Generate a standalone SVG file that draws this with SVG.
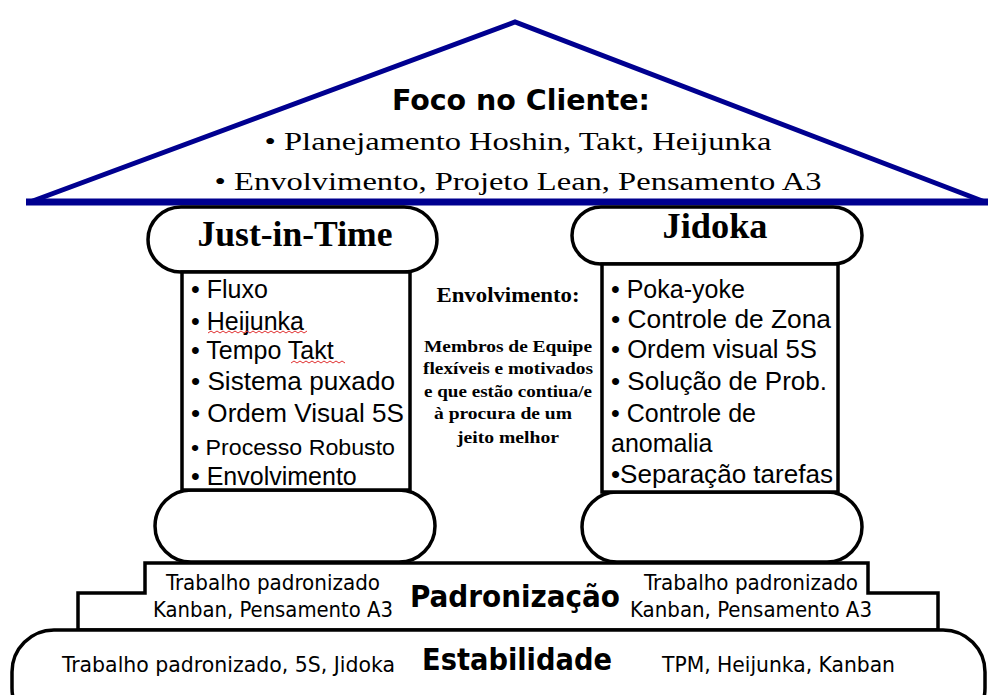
<svg xmlns="http://www.w3.org/2000/svg" width="990" height="695" viewBox="0 0 990 695">
<style>
.o{fill:#fff;stroke:#000;stroke-width:3.5}
.t{font-family:"Liberation Serif","Times New Roman",serif;fill:#000}
.s{font-family:"Liberation Sans",Arial,sans-serif;fill:#000}
.n{font-family:"Liberation Sans Narrow","DejaVu Sans Condensed","Liberation Sans",sans-serif;fill:#000}
.li{font-size:25px}
.sq{fill:none;stroke:#e03030;stroke-width:1}
</style>
<rect width="990" height="695" fill="#fff"/>
<g id="roof">
<polygon points="30,202 515,22 985,202" fill="#fff" stroke="#000090" stroke-width="5" stroke-linejoin="miter"/>
<line x1="26" y1="202" x2="988" y2="202" stroke="#000090" stroke-width="7"/>
<text class="n" x="521" y="110" font-size="28" font-weight="bold" text-anchor="middle" textLength="258" lengthAdjust="spacingAndGlyphs">Foco no Cliente:</text>
<text class="t" x="518" y="150" font-size="26" text-anchor="middle" textLength="507" lengthAdjust="spacingAndGlyphs">• Planejamento Hoshin, Takt, Heijunka</text>
<text class="t" x="518" y="190" font-size="26" text-anchor="middle" textLength="607" lengthAdjust="spacingAndGlyphs">• Envolvimento, Projeto Lean, Pensamento A3</text>
</g>
<g id="jit">
<rect class="o" x="148" y="207" width="289" height="65" rx="33"/>
<rect class="o" x="155" y="490" width="280" height="72" rx="36"/>
<rect class="o" x="182" y="272" width="228" height="218"/>
<text class="t" x="295" y="246" font-size="35" font-weight="bold" text-anchor="middle" textLength="195" lengthAdjust="spacingAndGlyphs">Just-in-Time</text>
<g class="s li">
<text x="191" y="298">• Fluxo</text>
<text x="191" y="330">• Heijunka</text>
<text x="191" y="359">• Tempo Takt</text>
<text x="191" y="390" textLength="204" lengthAdjust="spacingAndGlyphs">• Sistema puxado</text>
<text x="191" y="422" textLength="213" lengthAdjust="spacingAndGlyphs">• Ordem Visual 5S</text>
<text x="191" y="455" font-size="22.5" textLength="204" lengthAdjust="spacingAndGlyphs">• Processo Robusto</text>
<text x="191" y="485">• Envolvimento</text>
</g>
<path class="sq" d="M208,333 l3,-2 l3,2 l3,-2 l3,2 l3,-2 l3,2 l3,-2 l3,2 l3,-2 l3,2 l3,-2 l3,2 l3,-2 l3,2 l3,-2 l3,2 l3,-2 l3,2 l3,-2 l3,2 l3,-2 l3,2 l3,-2 l3,2 l3,-2 l3,2 l3,-2 l3,2 l3,-2 l3,2 l3,-2 l3,2 l3,-2"/>
<path class="sq" d="M291,363 l3,-2 l3,2 l3,-2 l3,2 l3,-2 l3,2 l3,-2 l3,2 l3,-2 l3,2 l3,-2 l3,2 l3,-2 l3,2 l3,-2 l3,2 l3,-2 l3,2"/>
</g>
<g id="envolvimento">
<text class="t" x="508" y="302" font-size="20" font-weight="bold" text-anchor="middle" textLength="143" lengthAdjust="spacingAndGlyphs">Envolvimento:</text>
<g class="t" font-size="17.5" font-weight="bold" text-anchor="middle">
<text x="508" y="352" textLength="168" lengthAdjust="spacingAndGlyphs">Membros de Equipe</text>
<text x="508" y="374" textLength="170" lengthAdjust="spacingAndGlyphs">flexíveis  e motivados</text>
<text x="508" y="397" textLength="168" lengthAdjust="spacingAndGlyphs">e que estão contiua/e</text>
<text x="503" y="419" textLength="138" lengthAdjust="spacingAndGlyphs">à procura de um</text>
<text x="508" y="443" textLength="102" lengthAdjust="spacingAndGlyphs">jeito melhor</text>
</g>
</g>
<g id="jidoka">
<rect class="o" x="572" y="207" width="290" height="57" rx="29"/>
<rect class="o" x="582" y="492" width="280" height="70" rx="35"/>
<rect class="o" x="602" y="264" width="236" height="228"/>
<text class="t" x="715" y="238" font-size="36" font-weight="bold" text-anchor="middle" textLength="105" lengthAdjust="spacingAndGlyphs">Jidoka</text>
<g class="s li">
<text x="611" y="298">• Poka-yoke</text>
<text x="611" y="328" textLength="220" lengthAdjust="spacingAndGlyphs">• Controle de Zona</text>
<text x="611" y="358" textLength="206" lengthAdjust="spacingAndGlyphs">• Ordem visual 5S</text>
<text x="611" y="390" textLength="216" lengthAdjust="spacingAndGlyphs">• Solução de Prob.</text>
<text x="611" y="422">• Controle de</text>
<text x="611" y="452">anomalia</text>
<text x="611" y="483" textLength="222" lengthAdjust="spacingAndGlyphs">•Separação tarefas</text>
</g>
</g>
<g id="padronizacao">
<polygon class="o" points="145,563 868,563 868,593 938,593 938,630 78,630 78,593 145,593"/>
<g class="n" font-size="21">
<text x="166" y="590" textLength="214" lengthAdjust="spacingAndGlyphs">Trabalho padronizado</text>
<text x="153" y="617" textLength="240" lengthAdjust="spacingAndGlyphs">Kanban, Pensamento A3</text>
<text x="644" y="590" textLength="214" lengthAdjust="spacingAndGlyphs">Trabalho padronizado</text>
<text x="630" y="617" textLength="242" lengthAdjust="spacingAndGlyphs">Kanban, Pensamento A3</text>
</g>
<text class="n" x="410" y="607" font-size="31" font-weight="bold" textLength="210" lengthAdjust="spacingAndGlyphs">Padronização</text>
</g>
<g id="estabilidade">
<rect class="o" x="12" y="630" width="973" height="100" rx="42"/>
<text class="n" x="62" y="672" font-size="21" textLength="333" lengthAdjust="spacingAndGlyphs">Trabalho padronizado, 5S, Jidoka</text>
<text class="n" x="422" y="670" font-size="31" font-weight="bold" textLength="190" lengthAdjust="spacingAndGlyphs">Estabilidade</text>
<text class="n" x="662" y="672" font-size="21" textLength="233" lengthAdjust="spacingAndGlyphs">TPM, Heijunka,  Kanban</text>
</g>
<g id="connectors"/>
</svg>
